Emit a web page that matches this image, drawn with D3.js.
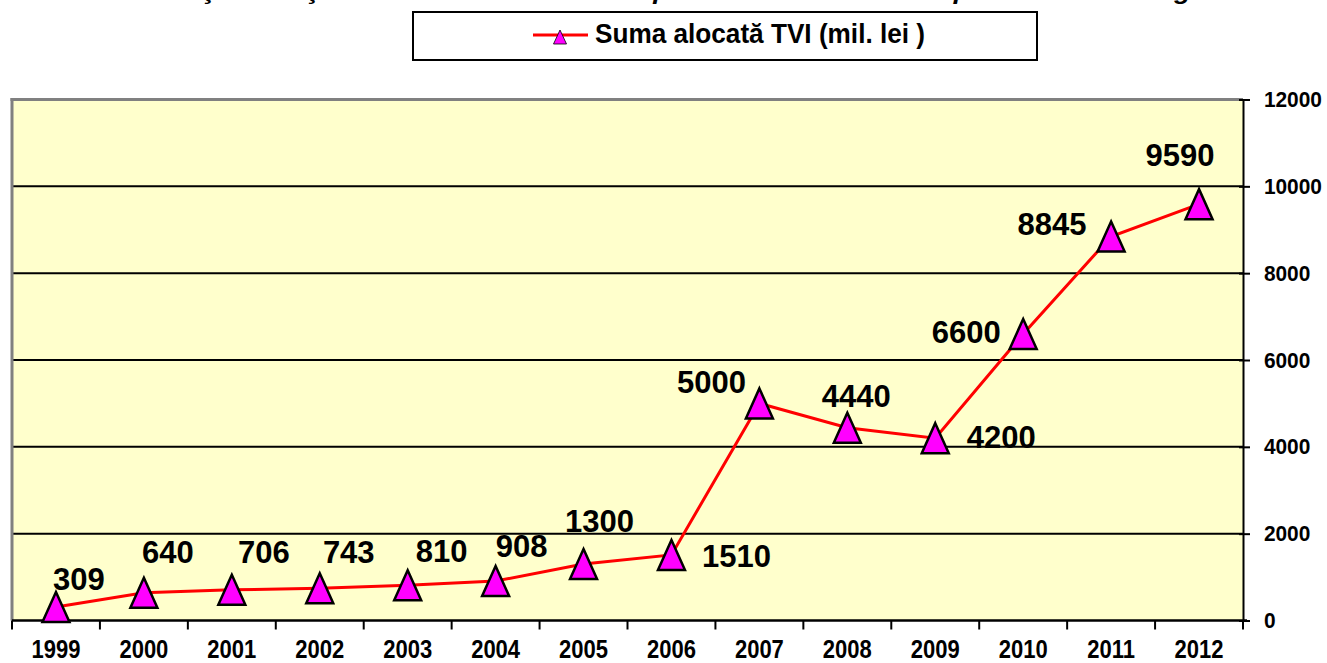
<!DOCTYPE html>
<html>
<head>
<meta charset="utf-8">
<script src="https://cdn.jsdelivr.net/npm/d3@7"></script>
<style>
  html, body { margin: 0; padding: 0; background: #ffffff; }
  svg { display: block; font-family: "Liberation Sans", Arial, sans-serif; }
</style>
</head>
<body>
<svg id="chart" width="1327" height="663"></svg>
<script>
// ---- data ----
const years = ["1999","2000","2001","2002","2003","2004","2005","2006","2007","2008","2009","2010","2011","2012"];
const sumaAlocata = [309, 640, 706, 743, 810, 908, 1300, 1510, 5000, 4440, 4200, 6600, 8845, 9590];
const yTicks = [0, 2000, 4000, 6000, 8000, 10000, 12000];
const seriesName = "Suma alocată TVI  (mil. lei )";
const titleText = "Evoluţia finanţării din Contul Trezoreriei pentru restituirea taxei pe valoarea adăugată";

(function () {
// ---- layout ----
const svg = d3.select("#chart");
const pL = 12, pR = 1243, pT = 99.5, pB = 620.5;

const x = d3.scaleBand().domain(years).range([pL, pR]).padding(0);
const y = d3.scaleLinear().domain([0, 12000]).range([pB, pT]);
const cx = d => x(d) + x.bandwidth() / 2;

// title, cut off by the top edge as in the source (only descenders visible)
svg.append("text")
  .attr("x", 130).attr("y", -1)
  .attr("textLength", 1100).attr("lengthAdjust", "spacingAndGlyphs")
  .style("font-size", "24px").style("font-weight", "bold").style("font-style", "italic")
  .attr("fill", "#000").text(titleText);

// plot background
svg.append("rect")
  .attr("x", pL).attr("y", pT)
  .attr("width", pR - pL).attr("height", pB - pT)
  .attr("fill", "#FFFFCC");

// gridlines
svg.append("g").selectAll("line")
  .data(yTicks.filter(t => t > 0 && t < 12000))
  .join("line")
  .attr("x1", pL).attr("x2", pR)
  .attr("y1", d => y(d)).attr("y2", d => y(d))
  .attr("stroke", "#000").attr("stroke-width", 2);

// gray frame top/left
svg.append("line").attr("x1", pL - 1.5).attr("x2", pR).attr("y1", pT).attr("y2", pT)
  .attr("stroke", "#808080").attr("stroke-width", 3);
svg.append("line").attr("x1", pL).attr("x2", pL).attr("y1", pT - 1.5).attr("y2", pB)
  .attr("stroke", "#808080").attr("stroke-width", 3);

// right axis
const yAxis = svg.append("g")
  .attr("transform", `translate(${pR},0)`)
  .call(d3.axisRight(y).tickValues(yTicks).tickSizeInner(6).tickSizeOuter(0).tickPadding(16).tickFormat(d3.format("d")));
yAxis.select(".domain").attr("stroke", "#000").attr("stroke-width", 2);
yAxis.selectAll(".tick line").attr("x1", -4).attr("x2", 7).attr("stroke", "#000").attr("stroke-width", 2);
yAxis.selectAll(".tick text")
  .style("font-size", "22px").style("font-weight", "bold").attr("fill", "#000")
  .attr("transform", "scale(0.95,1)");

// bottom axis
const xAxis = svg.append("g")
  .attr("transform", `translate(0,${pB})`)
  .call(d3.axisBottom(x).tickSize(0).tickPadding(20));
xAxis.select(".domain").remove();
xAxis.selectAll(".tick text")
  .style("font-size", "25px").style("font-weight", "bold").attr("fill", "#000")
  .attr("transform", "scale(0.88,1)");
svg.append("line").attr("x1", pL).attr("x2", pR + 4).attr("y1", pB).attr("y2", pB)
  .attr("stroke", "#000").attr("stroke-width", 2.5);
svg.append("g").selectAll("line")
  .data(d3.range(years.length + 1))
  .join("line")
  .attr("x1", i => pL + i * x.step()).attr("x2", i => pL + i * x.step())
  .attr("y1", pB).attr("y2", pB + 9)
  .attr("stroke", "#000").attr("stroke-width", 2);

// line
const pts = years.map((yr, i) => ({ yr, v: sumaAlocata[i], i }));
svg.append("path")
  .datum(pts)
  .attr("d", d3.line().x(d => cx(d.yr)).y(d => y(d.v)))
  .attr("fill", "none").attr("stroke", "#FF0000").attr("stroke-width", 3);

// markers
const tri = (w, h) => `M0,${-h/2} L${w/2},${h/2} L${-w/2},${h/2} Z`;
svg.append("g").selectAll("path")
  .data(pts)
  .join("path")
  .attr("transform", d => `translate(${cx(d.yr)},${y(d.v)})`)
  .attr("d", tri(27, 30))
  .attr("fill", "#FF00FF").attr("stroke", "#000").attr("stroke-width", 2.5)
  .attr("stroke-linejoin", "miter");

// data labels (placement offsets relative to each point)
const labelPlacement = [[23,-17],[24,-30],[32,-27],[29,-25],[34,-23],[26,-24],[16,-32],[65,12],[-48,-10],[9,-21],[66,10],[-57,9],[-59,-1],[-19,-38]];
svg.append("g").selectAll("text")
  .data(pts)
  .join("text")
  .attr("x", d => cx(d.yr) + labelPlacement[d.i][0])
  .attr("y", d => y(d.v) + labelPlacement[d.i][1])
  .attr("text-anchor", "middle")
  .style("font-size", "31px").style("font-weight", "bold").attr("fill", "#000")
  .text(d => d.v);

// legend
const lg = svg.append("g");
lg.append("rect").attr("x", 413).attr("y", 12).attr("width", 624).attr("height", 48)
  .attr("fill", "#fff").attr("stroke", "#000").attr("stroke-width", 2);
lg.append("line").attr("x1", 533).attr("x2", 588).attr("y1", 35).attr("y2", 35)
  .attr("stroke", "#FF0000").attr("stroke-width", 3);
lg.append("path").attr("transform", "translate(560,37)").attr("d", tri(13, 14))
  .attr("fill", "#FF00FF").attr("stroke", "#000").attr("stroke-width", 0.8);
lg.append("text").attr("x", 595).attr("y", 43)
  .attr("textLength", 330).attr("lengthAdjust", "spacingAndGlyphs")
  .style("font-size", "28px").style("font-weight", "bold").attr("fill", "#000")
  .text(seriesName);
})();
</script>
</body>
</html>
